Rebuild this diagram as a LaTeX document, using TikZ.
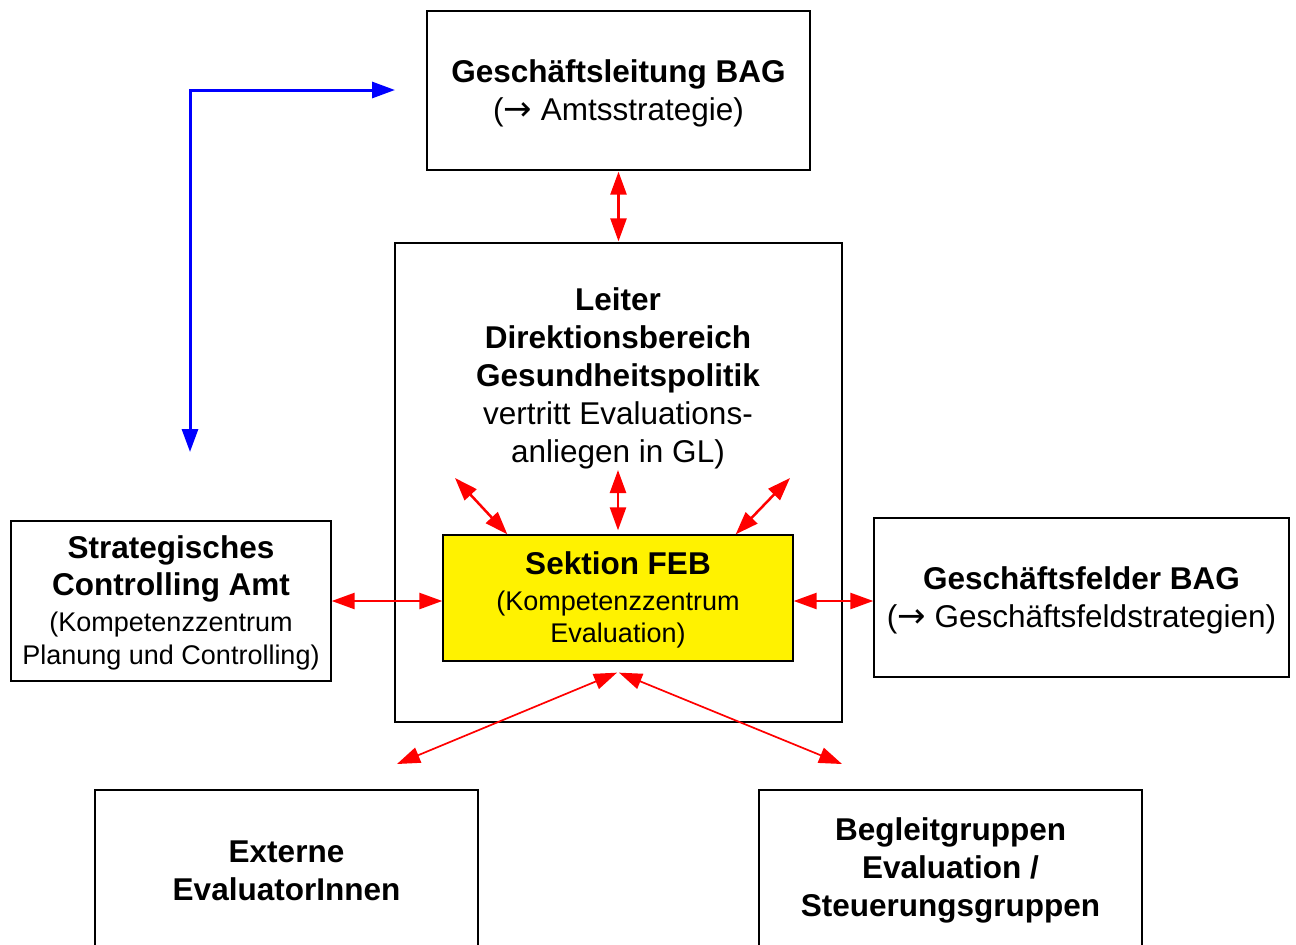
\documentclass[tikz,border=0pt]{standalone}
\usepackage{fontspec}
\setmainfont{Liberation Sans}
\newfontfamily\arrowfont{DejaVu Sans}
\usetikzlibrary{arrows.meta, positioning}

\newcommand{\bigfont}{\fontsize{31.5}{38}\selectfont}
\newcommand{\smallfont}{\fontsize{27}{32}\selectfont}
\newcommand{\toarrow}{{\arrowfont\fontsize{34}{38}\selectfont →}}

\begin{document}
\begin{tikzpicture}[
    x=1pt, y=-1pt,
    box/.style={draw, line width=1.3pt, align=center, inner sep=0pt, font=\bigfont},
    feb/.style={box, fill=yellow},
    link/.style={draw=red, line width=2.5pt,
      {Triangle[length=23pt,width=16pt]}-{Triangle[length=23pt,width=16pt]}},
    thinlink/.style={link, line width=1.7pt},
    blink/.style={draw=blue, line width=3pt,
      {Triangle[length=23pt,width=16pt]}-{Triangle[length=23pt,width=16pt]}}]
  \useasboundingbox (0,0) rectangle (1296,945);
  \clip (0,0) rectangle (1296,945);
  \node[box, minimum width=383, minimum height=159, text depth=1pt] (gl) at (618.5,90.5)
    {\textbf{Geschäftsleitung BAG}\\(\toarrow\ Amtsstrategie)};
  \node[box, minimum width=447, minimum height=479] (leiter) at (618.5,482.5) {};
  \node[align=center, font=\bigfont] (leitertext) at (618,378.5)
    {\textbf{Leiter}\\\textbf{Direktionsbereich}\\\textbf{Gesundheitspolitik}\\vertritt Evaluations-\\anliegen in GL)};
  \node[feb, minimum width=350, minimum height=126] (sektion) at (618,598)
    {\rule{0pt}{26pt}\textbf{Sektion FEB}\\[-2pt]{\smallfont (Kompetenzzentrum}\\[-6pt]{\smallfont Evaluation)}};
  \node[box, minimum width=320, minimum height=160] (strat) at (171,601)
    {\rule{0pt}{27pt}\textbf{Strategisches}\\[-1pt]\textbf{Controlling Amt}\\[-2pt]{\smallfont (Kompetenzzentrum}\\[-5pt]{\smallfont Planung und Controlling)}};
  \node[box, minimum width=415, minimum height=159, text depth=1pt] (gf) at (1081.5,597.5)
    {\textbf{Geschäftsfelder BAG}\\(\toarrow\ Geschäftsfeldstrategien)};
  \node[box, minimum width=383, minimum height=158] (extern) at (286.5,869)
    {\rule{0pt}{26pt}\textbf{Externe}\\\textbf{EvaluatorInnen}};
  \node[box, minimum width=383, minimum height=158] (begleit) at (950.5,869)
    {\rule{0pt}{26pt}\textbf{Begleitgruppen}\\\textbf{Evaluation /}\\\textbf{Steuerungsgruppen}};
  % free ends
  \coordinate (bluetop) at (395,90);
  \coordinate (bluecorner) at (190,90);
  \coordinate (bluedown) at (190,452);
  \coordinate (upleft) at (455,478);
  \coordinate (upmid) at (618,470);
  \coordinate (upright) at (790,478);
  \coordinate (downleft) at (397,764);
  \coordinate (downright) at (842,764);
  % connectors
  \draw[blink] (bluetop) -- (bluecorner) -- (bluedown);
  \draw[link, shorten <=1pt, shorten >=1pt] (gl.south) -- (leiter.north);
  \draw[link] (upleft) -- ([xshift=65pt]sektion.north west);
  \draw[link] (upmid) -- ([yshift=4pt]sektion.north);
  \draw[link] (upright) -- ([xshift=-58pt]sektion.north east);
  \draw[link] (strat.east) -- (strat.east -| sektion.west);
  \draw[link] (strat.east -| sektion.east) -- (strat.east -| gf.west);
  \draw[thinlink] ([xshift=-1pt,yshift=-11pt]sektion.south) -- (downleft);
  \draw[thinlink] ([xshift=1pt,yshift=-11pt]sektion.south) -- (downright);
\end{tikzpicture}
\end{document}
